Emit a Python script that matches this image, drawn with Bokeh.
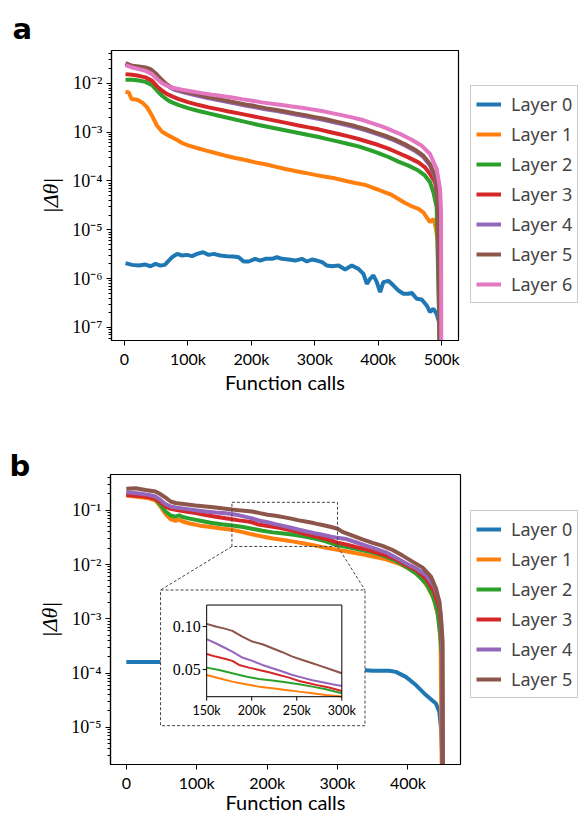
import numpy as np
from bokeh.plotting import figure
from bokeh.layouts import column
from bokeh.models import (Range1d, LinearScale, FixedTicker, CustomJSTickFormatter,
                          Legend, LegendItem)
from bokeh.core.properties import value
from bokeh.embed import file_html
from bokeh.resources import INLINE

COLORS = ["#1f77b4", "#ff7f0e", "#2ca02c", "#d62728", "#9467bd", "#8c564b", "#e377c2"]
LAYER_NAMES = ["Layer 0", "Layer 1", "Layer 2", "Layer 3", "Layer 4", "Layer 5", "Layer 6"]

# ---------------- panel a data (x in thousands of function calls) ----------------
A_X0 = [1.6, 12, 22.6, 33, 41, 48.8, 56.7, 63.5, 69.8, 75, 83, 90.8, 98.6, 106.5, 114.4, 123.8,
        132.7, 140.6, 151, 161.6, 172, 180, 187.8, 195.7, 206, 214, 222, 232.4, 240.3, 248.2,
        258.7, 269, 279.6, 287.5, 295.4, 303.3, 311.6, 319, 327, 337.4, 347.8, 358.3, 368.8,
        376.7, 382, 387, 392.4, 397.7, 403, 408, 416, 424, 431.8, 439.7, 447.5, 452.8, 460.6,
        468.5, 476.4, 481.6, 486.9, 492, 495.8, 499.5]
A_Y0 = [2.07e-6, 1.91e-6, 1.85e-6, 1.94e-6, 1.79e-6, 2.0e-6, 1.85e-6, 1.91e-6, 2.34e-6, 2.74e-6,
        3.21e-6, 2.97e-6, 3.06e-6, 2.88e-6, 3.21e-6, 3.47e-6, 3.06e-6, 3.21e-6, 2.97e-6, 2.88e-6,
        2.83e-6, 2.74e-6, 2.24e-6, 2.24e-6, 2.54e-6, 2.34e-6, 2.54e-6, 2.54e-6, 2.74e-6, 2.54e-6,
        2.46e-6, 2.34e-6, 2.54e-6, 2.24e-6, 2.46e-6, 2.34e-6, 2.17e-6, 1.85e-6, 1.79e-6, 1.85e-6,
        1.53e-6, 1.85e-6, 1.58e-6, 1.25e-6, 7.8e-7, 9.9e-7, 1.16e-6, 8.45e-7, 5.28e-7, 8.45e-7,
        9.0e-7, 7.2e-7, 5.7e-7, 4.9e-7, 4.9e-7, 5.1e-7, 3.86e-7, 3.74e-7, 2.82e-7, 2.06e-7,
        2.41e-7, 1.9e-7, 1.29e-7, 1e-9]
A_X1 = [1.6, 6.8, 11, 20, 27.8, 35.7, 43.5, 51.4, 59.3, 67.2, 75, 83, 90.8, 101.3, 114.4, 127.5,
        143.2, 159, 174.7, 190.5, 206.2, 222, 237.7, 253.4, 269.2, 284.9, 300.6, 316.4, 332,
        347.8, 363.6, 379.3, 389.8, 400.3, 410.8, 421.3, 431.8, 442.3, 452.8, 463.3, 471.1,
        476.4, 481.6, 486.9, 490.6, 493.7, 499.5]
A_Y1 = [6.70e-3, 6.49e-3, 4.74e-3, 4.60e-3, 4.06e-3, 3.21e-3, 2.16e-3, 1.35e-3, 1.02e-3, 8.85e-4,
        7.8e-4, 6.89e-4, 5.98e-4, 5.27e-4, 4.72e-4, 4.23e-4, 3.73e-4, 3.29e-4, 2.95e-4, 2.69e-4,
        2.40e-4, 2.19e-4, 1.96e-4, 1.76e-4, 1.60e-4, 1.46e-4, 1.33e-4, 1.22e-4, 1.13e-4, 1.01e-4,
        9.1e-5, 8.3e-5, 7.4e-5, 6.6e-5, 5.85e-5, 5.16e-5, 4.28e-5, 3.54e-5, 3.03e-5, 2.67e-5,
        2.28e-5, 1.80e-5, 1.43e-5, 1.67e-5, 1.13e-5, 6.0e-6, 1e-9]
A_X2 = [1.6, 12, 22.6, 33, 43.5, 51.4, 59.3, 67.2, 75, 85.5, 101.3, 117, 132.7, 148.5, 164.2, 180,
        195.7, 211.4, 227.2, 243, 258.7, 274.4, 290.1, 305.9, 321.6, 337.4, 353.1, 368.8, 384.6,
        400.3, 416, 431.8, 447.5, 463.3, 473.8, 481.6, 486.9, 492.1, 499.5]
A_Y2 = [1.18e-2, 1.18e-2, 1.14e-2, 1.07e-2, 9.17e-3, 7.03e-3, 5.55e-3, 4.60e-3, 4.06e-3, 3.58e-3,
        3.06e-3, 2.70e-3, 2.42e-3, 2.16e-3, 1.94e-3, 1.74e-3, 1.56e-3, 1.40e-3, 1.27e-3, 1.16e-3,
        1.05e-3, 9.57e-4, 8.71e-4, 7.93e-4, 7.10e-4, 6.37e-4, 5.70e-4, 5.11e-4, 4.37e-4, 3.73e-4,
        3.09e-4, 2.48e-4, 2.06e-4, 1.63e-4, 1.28e-4, 9.4e-5, 5.86e-5, 2.89e-5, 1e-9]
A_X3 = [1.6, 12, 22.6, 33, 43.5, 51.4, 59.3, 67.2, 75, 85.5, 101.3, 117, 132.7, 148.5, 164.2, 180,
        195.7, 211.4, 227.2, 243, 258.7, 274.4, 290.1, 305.9, 321.6, 337.4, 353.1, 368.8, 384.6,
        400.3, 416, 431.8, 447.5, 463.3, 473.8, 481.6, 489.5, 493.7, 499.5]
A_Y3 = [1.54e-2, 1.49e-2, 1.42e-2, 1.32e-2, 1.12e-2, 8.62e-3, 7.03e-3, 6.0e-3, 5.38e-3, 4.74e-3,
        4.06e-3, 3.58e-3, 3.21e-3, 2.92e-3, 2.65e-3, 2.42e-3, 2.20e-3, 2.0e-3, 1.82e-3, 1.66e-3,
        1.51e-3, 1.37e-3, 1.25e-3, 1.14e-3, 1.02e-3, 9.13e-4, 8.18e-4, 7.22e-4, 6.27e-4, 5.44e-4,
        4.58e-4, 3.73e-4, 3.04e-4, 2.40e-4, 1.90e-4, 1.39e-4, 9.4e-5, 4.28e-5, 1e-9]
A_X45 = [1.6, 12, 22.6, 33, 41, 48.8, 56.7, 64.5, 72.4, 80.3, 96, 111.8, 127.5, 143.2, 159, 174.7,
         190.5, 206.2, 222, 237.7, 253.4, 269.2, 284.9, 300.6, 316.4, 332.1, 347.8, 363.6, 379.3,
         395, 410.8, 426.5, 442.3, 458, 471.1, 481.6, 489.5, 493.7, 499.5]
A_Y4 = [2.45e-2, 2.2e-2, 2.12e-2, 2.02e-2, 1.86e-2, 1.52e-2, 1.2e-2, 9.6e-3, 8.1e-3, 7.25e-3,
        6.35e-3, 5.7e-3, 5.1e-3, 4.65e-3, 4.22e-3, 3.85e-3, 3.5e-3, 3.23e-3, 2.94e-3, 2.72e-3,
        2.51e-3, 2.29e-3, 2.11e-3, 1.92e-3, 1.75e-3, 1.57e-3, 1.41e-3, 1.26e-3, 1.1e-3, 9.4e-4,
        8.0e-4, 6.65e-4, 5.3e-4, 4.12e-4, 3.1e-4, 2.08e-4, 1.18e-4, 5.3e-5, 1e-9]
A_Y5 = [2.58e-2, 2.28e-2, 2.21e-2, 2.11e-2, 1.95e-2, 1.61e-2, 1.26e-2, 1.0e-2, 8.48e-3, 7.6e-3,
        6.70e-3, 6.0e-3, 5.38e-3, 4.90e-3, 4.46e-3, 4.06e-3, 3.69e-3, 3.41e-3, 3.10e-3, 2.87e-3,
        2.65e-3, 2.42e-3, 2.23e-3, 2.03e-3, 1.85e-3, 1.66e-3, 1.49e-3, 1.33e-3, 1.16e-3, 9.88e-4,
        8.44e-4, 7.0e-4, 5.61e-4, 4.37e-4, 3.29e-4, 2.22e-4, 1.28e-4, 5.86e-5, 1e-9]
A_X6 = [1.6, 12, 22.6, 33, 43.5, 51.4, 59.3, 67.2, 75, 90.8, 106.5, 122.2, 138, 153.7, 169.5,
        185.2, 201, 216.7, 232.4, 248.2, 263.9, 279.6, 295.4, 311.1, 326.9, 342.6, 358.3, 374.1,
        389.8, 405.6, 421.3, 437, 452.8, 468.5, 481.6, 492.1, 497.4, 499, 499.5]
A_Y6 = [2.35e-2, 2.11e-2, 1.95e-2, 1.80e-2, 1.54e-2, 1.22e-2, 1.0e-2, 8.89e-3, 8.09e-3,
        7.36e-3, 6.81e-3, 6.29e-3, 5.82e-3, 5.47e-3, 5.13e-3, 4.74e-3, 4.39e-3, 4.06e-3, 3.81e-3,
        3.58e-3, 3.36e-3, 3.15e-3, 2.92e-3, 2.70e-3, 2.45e-3, 2.23e-3, 2.0e-3, 1.79e-3, 1.53e-3,
        1.31e-3, 1.08e-3, 8.85e-4, 7.0e-4, 5.27e-4, 3.56e-4, 1.76e-4, 6.85e-5, 2.28e-5, 1e-9]

# ---------------- panel b data (x in thousands of function calls) ----------------
B_X0 = [0, 48, 150, 250, 340.3, 349.8, 373.5, 382.9, 397.1, 411.4, 425.6, 439.8, 444.6, 447, 448.4, 450.3]
B_Y0 = [1.6e-4, 1.6e-4, 1.45e-4, 1.25e-4, 1.13e-4, 1.10e-4, 1.10e-4, 1.05e-4, 8.5e-5, 6.0e-5,
        3.92e-5, 2.75e-5, 1.93e-5, 9.5e-6, 3.5e-6, 1e-9]
B_X1 = [0, 17.9, 32.1, 41.5, 48.6, 55.8, 62.9, 70, 75, 80, 90, 105, 120, 135,
        150, 163.7, 178.5, 193.3, 208.1, 223, 237.8, 252.6, 267.4, 282.2, 300,
        311.8, 340.3, 368.7, 387.7, 401.9, 416.1, 428, 437.4, 443.6, 446.4, 450.3]
B_Y1 = [0.186, 0.176, 0.166, 0.151, 0.117, 0.085, 0.068, 0.064, 0.067, 0.062, 0.057, 0.052, 0.049, 0.046,
        0.0438, 0.0399, 0.0360, 0.0329, 0.0302, 0.0283, 0.0264, 0.0244, 0.0225, 0.0205, 0.0186,
        0.0176, 0.0150, 0.0125, 0.0103, 8.28e-3, 6.24e-3, 3.91e-3, 2.22e-3, 1.02e-3, 3.77e-4, 1e-9]
B_X2 = [0, 17.9, 32.1, 41.5, 48.6, 55.8, 62.9, 70, 75, 80, 90, 105, 120, 135,
        150, 163.7, 178.5, 193.3, 208.1, 223, 237.8, 252.6, 267.4, 282.2, 300,
        311.8, 326, 340.3, 354.5, 368.7, 382.9, 397.1, 411.4, 425.6, 435, 442, 446, 448, 450.3]
B_Y2 = [0.206, 0.192, 0.179, 0.162, 0.125, 0.095, 0.080, 0.076, 0.081, 0.075, 0.070, 0.064, 0.059, 0.055,
        0.0523, 0.0496, 0.0457, 0.0419, 0.0391, 0.0372, 0.0353, 0.0329, 0.0302, 0.0271, 0.0225,
        0.0212, 0.0195, 0.0178, 0.0160, 0.0140, 0.0116, 9.14e-3, 6.89e-3, 4.50e-3, 2.74e-3, 1.35e-3,
        5.0e-4, 2.14e-4, 1e-9]
B_X3 = [0, 17.9, 32.1, 41.5, 48.6, 55.8, 62.9, 70, 84.2, 98.4, 112.7, 126.9, 141.1,
        150, 160, 171.1, 178.5, 186, 197, 208.1, 219.3, 230.4, 241.5, 252.6, 263.7, 274.8, 285.9, 300,
        311.8, 326, 340.3, 354.5, 368.7, 382.9, 397.1, 411.4, 425.6, 437.4, 444.6, 447, 448.4, 450.3]
B_Y3 = [0.192, 0.184, 0.174, 0.162, 0.140, 0.117, 0.106, 0.102, 0.0945, 0.089, 0.082, 0.076, 0.071,
        0.0682, 0.0651, 0.0624, 0.0601, 0.0554, 0.0523, 0.0496, 0.0469, 0.0438, 0.0407, 0.0368,
        0.0341, 0.0314, 0.0291, 0.0252,
        0.0235, 0.0210, 0.0190, 0.0168, 0.0148, 0.0125, 9.8e-3, 7.9e-3, 5.56e-3, 3.16e-3, 1.56e-3,
        7.66e-4, 2.85e-4, 1e-9]
B_X4 = [0, 17.9, 32.1, 41.5, 48.6, 55.8, 62.9, 70, 84.2, 98.4, 112.7, 126.9, 141.1,
        150, 160, 171.1, 178.5, 189.6, 200.7, 211.9, 223, 234.1, 245.2, 256.3, 267.4, 278.5, 289.6, 300,
        311.8, 326, 340.3, 354.5, 368.7, 382.9, 397.1, 411.4, 425.6, 437.4, 444.6, 447, 448.4, 450.3]
B_Y4 = [0.215, 0.203, 0.192, 0.179, 0.155, 0.129, 0.117, 0.112, 0.106, 0.100, 0.095, 0.091, 0.088,
        0.0853, 0.0806, 0.0748, 0.0709, 0.0640, 0.0601, 0.0554, 0.0516, 0.0477, 0.0438, 0.0407,
        0.0376, 0.0353, 0.0329, 0.0310,
        0.0296, 0.0257, 0.0223, 0.0194, 0.0168, 0.0134, 0.0105, 8.51e-3, 6.41e-3, 3.91e-3, 2.07e-3,
        1.02e-3, 3.77e-4, 1e-9]
B_X5 = [0, 13.1, 27.3, 41.5, 48.6, 55.8, 62.9, 70, 84.2, 98.4, 112.7, 126.9, 141.1,
        150, 160, 171.1, 178.5, 189.6, 200.7, 211.9, 223, 234.1, 245.2, 256.3, 267.4, 278.5, 289.6, 300,
        307.1, 321.3, 335.5, 349.8, 364, 378.2, 392.4, 406.6, 420.9, 432.7, 439.8, 444.6, 447, 449.3, 450.3]
B_Y5 = [0.248, 0.255, 0.237, 0.221, 0.197, 0.171, 0.145, 0.136, 0.129, 0.122, 0.117, 0.112, 0.107,
        0.1031, 0.1000, 0.0973, 0.0950, 0.0884, 0.0826, 0.0795, 0.0748, 0.0702, 0.0651, 0.0612,
        0.0574, 0.0535, 0.0496, 0.0457,
        0.0400, 0.0340, 0.0290, 0.0250, 0.0220, 0.0185, 0.0146, 0.0113, 8.75e-3, 5.97e-3, 3.64e-3,
        2.07e-3, 1.02e-3, 3.77e-4, 1e-9]

A_SERIES = [(A_X0, A_Y0), (A_X1, A_Y1), (A_X2, A_Y2), (A_X3, A_Y3), (A_X45, A_Y4), (A_X45, A_Y5), (A_X6, A_Y6)]
B_SERIES = [(B_X0, B_Y0), (B_X1, B_Y1), (B_X2, B_Y2), (B_X3, B_Y3), (B_X4, B_Y4), (B_X5, B_Y5)]

A_XTICKS = [0, 100e3, 200e3, 300e3, 400e3, 500e3]
B_XTICKS = [0, 100e3, 200e3, 300e3, 400e3]
A_DECADES = [-7, -6, -5, -4, -3, -2]
B_DECADES = [-5, -4, -3, -2, -1]

# inset (panel b)
INSET_XLIM = (150e3, 300e3)
INSET_YLIM = (0.0185, 0.125)
INSET_XTICKS = [150e3, 200e3, 250e3, 300e3]
INSET_XLABELS = ["150k", "200k", "250k", "300k"]
INSET_YTICKS = [0.05, 0.10]
INSET_YLABELS = ["0.05", "0.10"]
ZOOM_RECT_Y = (0.0215, 0.14)

SANS = "Lato"
LEG_SANS = "Noto Sans"
SERIF = "Liberation Serif"
W = 580

X_FMT = CustomJSTickFormatter(code="return tick == 0 ? '0' : (tick/1000).toFixed(0) + 'k';")
Y_FMT = CustomJSTickFormatter(code="""
const e = Math.round(Math.log10(tick));
const s = {'-':'⁻','0':'⁰','1':'¹','2':'²','3':'³','4':'⁴','5':'⁵','6':'⁶','7':'⁷','8':'⁸','9':'⁹'};
return '10' + String(e).split('').map(c => s[c]).join('');
""")


def frame_ranges(xr, yr, box, height):
    """Extend the axes-box ranges so that the plotting frame covers the whole canvas."""
    l, r, t, b = box
    bw, bh = r - l, b - t
    w = xr[1] - xr[0]
    fx = (xr[0] - w * l / bw, xr[1] + w * (W - r) / bw)
    l0, l1 = np.log10(yr[0]), np.log10(yr[1])
    s = l1 - l0
    fy = (10 ** (l0 - s * (height - b) / bh), 10 ** (l1 + s * t / bh))
    return fx, fy


def make_panel(height, xr, yr, box, xticks, decades, letter, letter_pos, xlabel_off,
               series, legend_loc):
    fxr, fyr = frame_ranges(xr, yr, box, height)
    p = figure(width=W, height=height, x_range=Range1d(*fxr), y_range=Range1d(*fyr),
               y_axis_type="log", output_backend="svg", toolbar_location=None,
               min_border_left=0, min_border_right=0, min_border_top=0, min_border_bottom=0)
    p.title.text = ""
    p.title.visible = False
    p.xgrid.visible = False
    p.ygrid.visible = False
    p.outline_line_color = None
    p.background_fill_color = "white"
    p.border_fill_color = "white"

    p.xaxis.ticker = FixedTicker(ticks=xticks)
    p.xaxis.formatter = X_FMT
    majors = [10.0 ** e for e in decades]
    minors = [m * 10.0 ** e for e in range(decades[0] - 1, decades[-1] + 1) for m in range(2, 10)]
    minors = [v for v in minors if yr[0] <= v <= yr[1]]
    p.yaxis.ticker = FixedTicker(ticks=majors, minor_ticks=minors)
    p.yaxis.formatter = Y_FMT
    p.xaxis.bounds = xr
    p.yaxis.bounds = yr
    p.xaxis.fixed_location = yr[0]
    p.yaxis.fixed_location = xr[0]
    for ax in (p.xaxis[0], p.yaxis[0]):
        ax.axis_label = None
        ax.axis_line_color = "black"
        ax.axis_line_width = 1.2
        ax.major_tick_in = 0
        ax.major_tick_out = 5
        ax.minor_tick_in = 0
        ax.minor_tick_out = 3
        ax.major_tick_line_color = "black"
        ax.minor_tick_line_color = "black"
    p.xaxis.minor_tick_line_color = None
    p.xaxis.major_label_text_font = SANS
    p.xaxis.major_label_text_font_size = "16px"
    p.xaxis.major_label_text_color = "black"
    p.xaxis.major_label_standoff = 3
    p.yaxis.major_label_text_font = SERIF
    p.yaxis.major_label_text_font_size = "18px"
    p.yaxis.major_label_text_color = "black"
    p.yaxis.major_label_standoff = 4

    items = []
    for i, (xs, ys) in enumerate(series):
        r = p.line(np.array(xs) * 1000, ys, line_color=COLORS[i], line_width=4)
        items.append(LegendItem(label=LAYER_NAMES[i], renderers=[r]))
    # white mask under the axes box (curves end at zero there)
    p.quad(left=[fxr[0]], right=[fxr[1]], bottom=[fyr[0]], top=[yr[0]],
           fill_color="white", line_color=None)
    # axes box
    p.quad(left=[xr[0]], right=[xr[1]], bottom=[yr[0]], top=[yr[1]],
           fill_color=None, line_color="black", line_width=1.2)
    # axis titles and panel letter
    p.text(x=[(xr[0] + xr[1]) / 2], y=[yr[0]], text=["Function calls"], y_offset=xlabel_off,
           text_align="center", text_baseline="middle", text_font=value(SANS),
           text_font_size="20px", text_color="black")
    p.text(x=[xr[0]], y=[np.sqrt(yr[0] * yr[1])], text=["|Δθ|"], x_offset=-61, angle=np.pi / 2,
           text_align="center", text_baseline="middle", text_font=value(SERIF),
           text_font_style="italic", text_font_size="22px", text_color="black")
    p.text(x=[xr[0]], y=[yr[1]], text=[letter], x_offset=letter_pos[0], y_offset=letter_pos[1],
           text_align="left", text_baseline="alphabetic", text_font=value("DejaVu Sans"),
           text_font_style="bold", text_font_size="29px", text_color="black")

    leg = Legend(items=items, location=legend_loc, margin=0, padding=5, spacing=4,
                 glyph_width=25, glyph_height=26, label_height=26, label_standoff=10,
                 label_text_font=LEG_SANS, label_text_font_size="18px",
                 border_line_color="#cccccc", border_line_alpha=1.0,
                 background_fill_color="white", background_fill_alpha=1.0)
    p.add_layout(leg)
    return p, fxr, fyr


# ---------------- panel a ----------------
A_XR = (-20.5e3, 526.5e3)
A_YR = (5.4e-8, 0.0469)
A_BOX = (111, 458, 50, 340)          # axes box in canvas pixels: left, right, top, bottom
pa, A_FXR, A_FYR = make_panel(410, A_XR, A_YR, A_BOX, A_XTICKS, A_DECADES,
                              "a", (-99, -22), 41, A_SERIES, (470, 410 - 303))

# ---------------- panel b ----------------
B_XR = (-22.5e3, 474.7e3)
B_YR = (2.06e-6, 0.456)
B_BOX = (110, 460, 64, 354)
pb, B_FXR, B_FYR = make_panel(405, B_XR, B_YR, B_BOX, B_XTICKS, B_DECADES,
                              "b", (-101, -9), 37, B_SERIES, (470, 405 - 288))

# placement of inset (in main-axes data coordinates)
INSET_BOX_X = (48.6e3, 339e3)
INSET_BOX_Y = (1.07e-5, 3.39e-3)
INSET_FRAME_X = (114.1e3, 306.1e3)
INSET_FRAME_Y = (3.66e-5, 1.79e-3)

DASH = dict(line_color="#444444", line_dash="3 2", line_width=1)
pb.quad(left=[INSET_XLIM[0]], right=[INSET_XLIM[1]], bottom=[ZOOM_RECT_Y[0]], top=[ZOOM_RECT_Y[1]],
        fill_color=None, **DASH)
pb.segment(x0=[INSET_XLIM[0], INSET_XLIM[1]], y0=[ZOOM_RECT_Y[0]] * 2,
           x1=[INSET_BOX_X[0], INSET_BOX_X[1]], y1=[INSET_BOX_Y[1]] * 2, **DASH)
pb.quad(left=[INSET_BOX_X[0]], right=[INSET_BOX_X[1]], bottom=[INSET_BOX_Y[0]], top=[INSET_BOX_Y[1]],
        fill_color="white", **DASH)

# extra ranges so that inset limits map onto the inset frame
gx0 = (INSET_FRAME_X[0] - B_FXR[0]) / (B_FXR[1] - B_FXR[0])
gx1 = (INSET_FRAME_X[1] - B_FXR[0]) / (B_FXR[1] - B_FXR[0])
spx = (INSET_XLIM[1] - INSET_XLIM[0]) / (gx1 - gx0)
ix0 = INSET_XLIM[0] - gx0 * spx
L0, L1 = np.log10(B_FYR[0]), np.log10(B_FYR[1])
fy0 = (np.log10(INSET_FRAME_Y[0]) - L0) / (L1 - L0)
fy1 = (np.log10(INSET_FRAME_Y[1]) - L0) / (L1 - L0)
spy = (INSET_YLIM[1] - INSET_YLIM[0]) / (fy1 - fy0)
iy0 = INSET_YLIM[0] - fy0 * spy
pb.extra_x_ranges = {"inset": Range1d(ix0, ix0 + spx)}
pb.extra_y_ranges = {"inset": Range1d(iy0, iy0 + spy)}
pb.extra_y_scales = {"inset": LinearScale()}
IN = dict(x_range_name="inset", y_range_name="inset")

for i, (xs, ys) in enumerate(B_SERIES[1:], start=1):
    xs = np.array(xs) * 1000
    ys = np.array(ys)
    m = (xs >= INSET_XLIM[0]) & (xs <= INSET_XLIM[1]) & (ys >= INSET_YLIM[0]) & (ys <= INSET_YLIM[1])
    pb.line(xs[m], ys[m], line_color=COLORS[i], line_width=2, **IN)

pb.quad(left=[INSET_XLIM[0]], right=[INSET_XLIM[1]], bottom=[INSET_YLIM[0]], top=[INSET_YLIM[1]],
        fill_color=None, line_color="black", line_width=1, **IN)
pb.ray(x=INSET_XTICKS, y=[INSET_YLIM[0]] * len(INSET_XTICKS), length=4, length_units="screen",
       angle=-np.pi / 2, line_color="black", line_width=1, **IN)
pb.ray(x=[INSET_XLIM[0]] * len(INSET_YTICKS), y=INSET_YTICKS, length=4, length_units="screen",
       angle=np.pi, line_color="black", line_width=1, **IN)
pb.text(x=INSET_XTICKS, y=[INSET_YLIM[0]] * len(INSET_XTICKS), text=INSET_XLABELS,
        text_align="center", text_baseline="top", y_offset=6, text_font=value(SANS),
        text_font_size="12.5px", text_color="black", **IN)
pb.text(x=[INSET_XLIM[0]] * len(INSET_YTICKS), y=INSET_YTICKS, text=INSET_YLABELS,
        text_align="right", text_baseline="middle", x_offset=-6, text_font=value(SERIF),
        text_font_size="16px", text_color="black", **IN)

layout = column(pa, pb, spacing=0)
open("out.html", "w").write(file_html(layout, INLINE))
